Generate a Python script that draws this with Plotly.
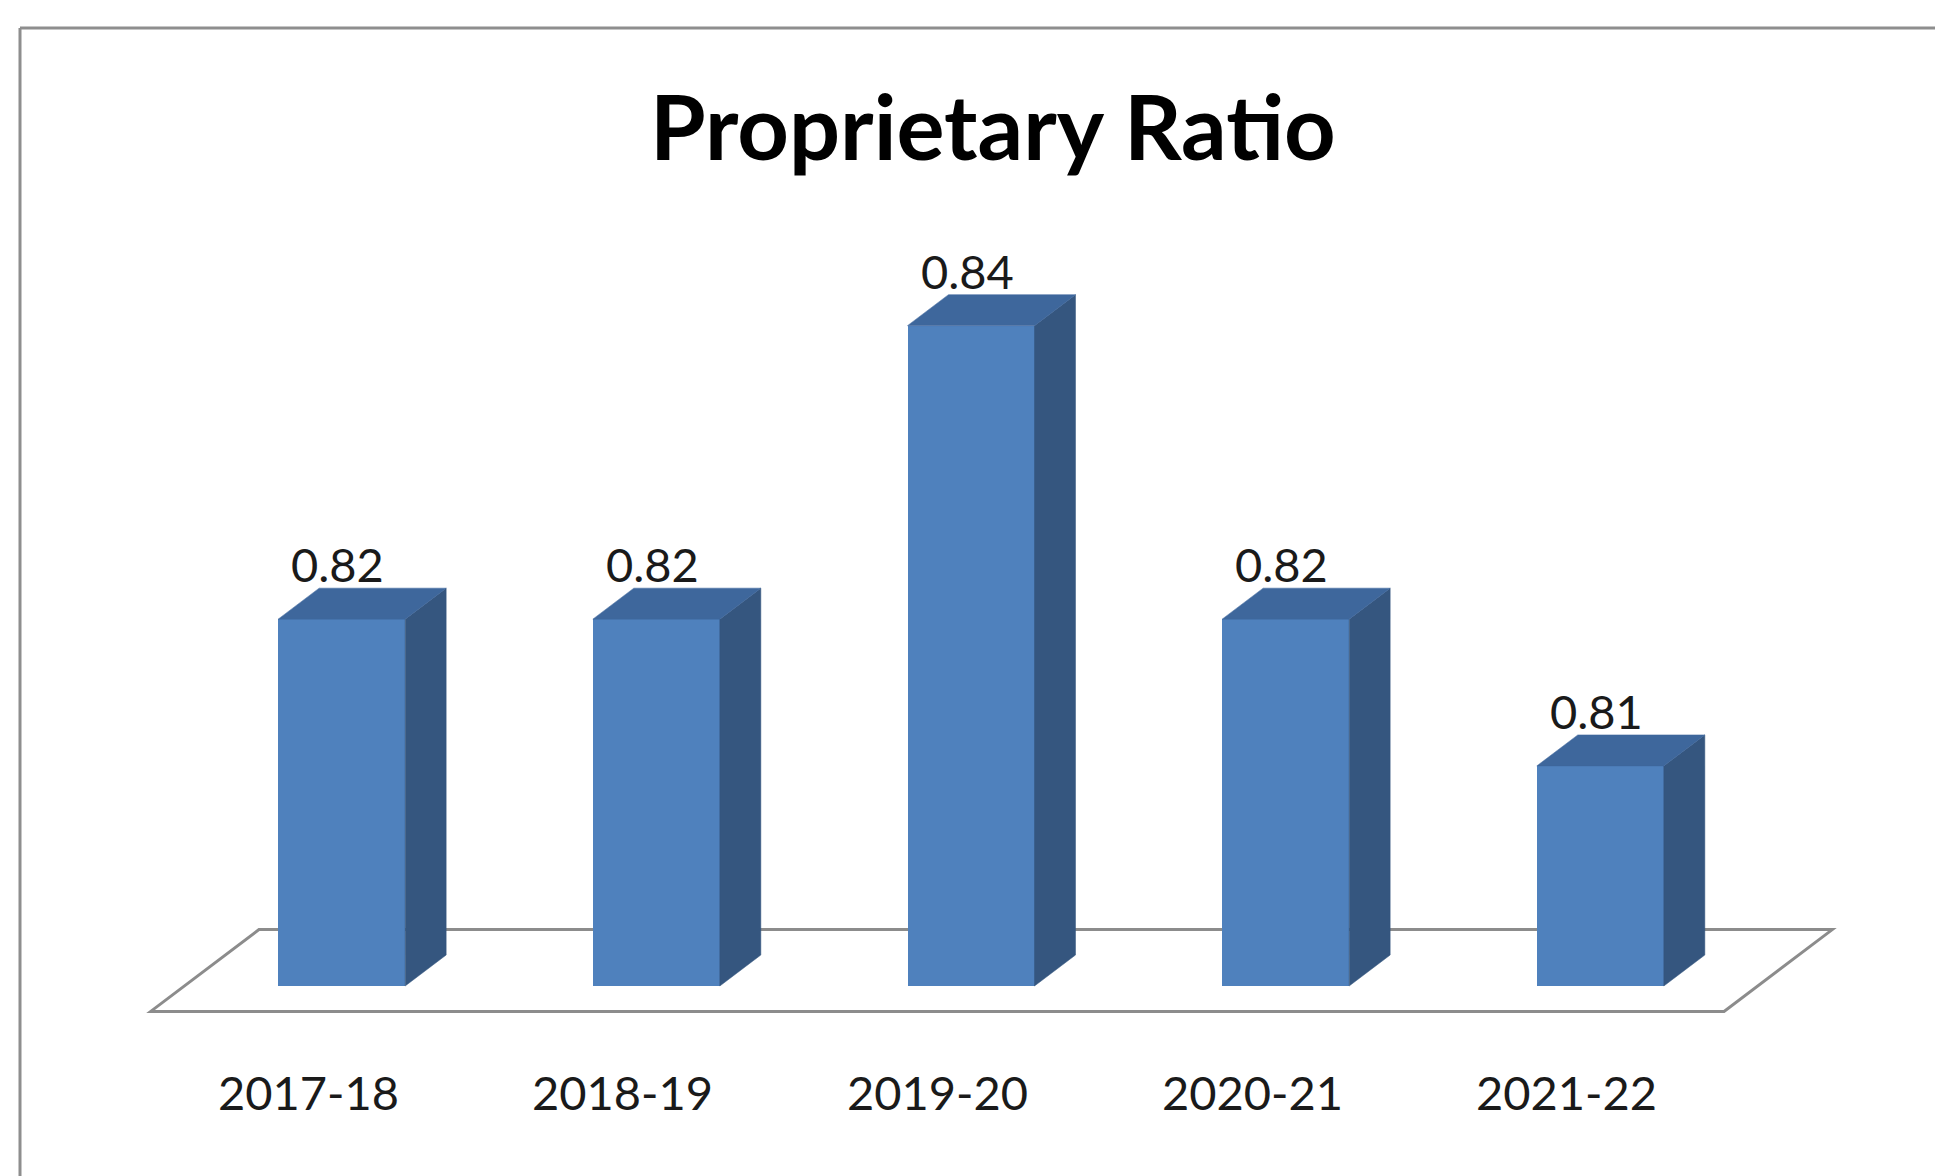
import plotly.graph_objects as go

# ---- data ----
categories = ["2017-18", "2018-19", "2019-20", "2020-21", "2021-22"]
ratios = [0.82, 0.82, 0.84, 0.82, 0.81]
value_labels = ["0.82", "0.82", "0.84", "0.82", "0.81"]
chart_title = "Proprietary Ratio"

# ---- geometry / style ----
FIG_W, FIG_H = 1935, 1176
M_L, M_R, M_T, M_B = 27, 20, 170, 46
PLOT_W = FIG_W - M_L - M_R
PLOT_H = FIG_H - M_T - M_B

FLOOR = 0.795                 # value at which the bars stand on the floor
X_RANGE = [-1.0, 5.0]
PX_PER_X = PLOT_W / (X_RANGE[1] - X_RANGE[0])
PX_PER_Y = 14675.0            # pixels per unit of ratio
FLOOR_PX = 986                # page row of the floor's front plane
Y_RANGE = [FLOOR - (FIG_H - M_B - FLOOR_PX) / PX_PER_Y,
           FLOOR + (FLOOR_PX - M_T) / PX_PER_Y]

BAR_W = 127 / PX_PER_X        # front face width in category units
DEPTH_DX = 41 / PX_PER_X      # oblique depth offset (x)
DEPTH_DY = 31 / PX_PER_Y      # oblique depth offset (y)
FLOOR_FRONT = 0.82            # floor extends this many bar depths in front
FLOOR_BACK = 1.82             # ...and this many behind the bar front plane

FRONT = "#4F81BD"
TOP = "#3E679C"
SIDE = "#35567F"
GRID_GREY = "#8C8C8C"
FONT = "Lato"


def px_to_paper_x(px):
    return (px - M_L) / PLOT_W


def px_to_paper_y(py):
    return 1 - (py - M_T) / PLOT_H


fig = go.Figure()
n = len(categories)

# front faces of the bars
fig.add_trace(go.Bar(
    x=list(range(n)), y=[v - FLOOR for v in ratios], base=FLOOR,
    width=BAR_W, marker=dict(color=FRONT, line=dict(width=0)),
    hovertext=categories, showlegend=False))

# side and top faces
for i, v in enumerate(ratios):
    xl, xr = i - BAR_W / 2, i + BAR_W / 2
    fig.add_trace(go.Scatter(
        x=[xr, xr + DEPTH_DX, xr + DEPTH_DX, xr, xr],
        y=[FLOOR, FLOOR + DEPTH_DY, v + DEPTH_DY, v, FLOOR],
        mode="lines", fill="toself", fillcolor=SIDE,
        line=dict(color=SIDE, width=0.5), hoverinfo="skip", showlegend=False))
    fig.add_trace(go.Scatter(
        x=[xl, xr, xr + DEPTH_DX, xl + DEPTH_DX, xl],
        y=[v, v, v + DEPTH_DY, v + DEPTH_DY, v],
        mode="lines", fill="toself", fillcolor=TOP,
        line=dict(color=TOP, width=0.5), hoverinfo="skip", showlegend=False))

# floor parallelogram, drawn underneath the bars
fx0, fx1 = -0.5, n - 0.5
floor_pts = [
    (fx0 - FLOOR_FRONT * DEPTH_DX, FLOOR - FLOOR_FRONT * DEPTH_DY),
    (fx1 - FLOOR_FRONT * DEPTH_DX, FLOOR - FLOOR_FRONT * DEPTH_DY),
    (fx1 + FLOOR_BACK * DEPTH_DX, FLOOR + FLOOR_BACK * DEPTH_DY),
    (fx0 + FLOOR_BACK * DEPTH_DX, FLOOR + FLOOR_BACK * DEPTH_DY),
]
floor_path = "M " + " L ".join(f"{x},{y}" for x, y in floor_pts) + " Z"

shapes = [
    dict(type="path", xref="x", yref="y", path=floor_path, layer="below",
         fillcolor="white", line=dict(color=GRID_GREY, width=3)),
    # chart area frame (top and left edges)
    dict(type="line", xref="paper", yref="paper",
         x0=px_to_paper_x(20), x1=px_to_paper_x(FIG_W + 5),
         y0=px_to_paper_y(28), y1=px_to_paper_y(28),
         line=dict(color="#8E8E8E", width=3)),
    dict(type="line", xref="paper", yref="paper",
         x0=px_to_paper_x(20), x1=px_to_paper_x(20),
         y0=px_to_paper_y(28), y1=px_to_paper_y(FIG_H + 5),
         line=dict(color="#8E8E8E", width=3)),
]

annotations = []
# value labels above each bar
for i, (v, lab) in enumerate(zip(ratios, value_labels)):
    annotations.append(dict(
        x=i - 4 / PX_PER_X, y=v, xref="x", yref="y", text=lab,
        showarrow=False, xanchor="center", yanchor="bottom", yshift=25,
        font=dict(family=FONT, size=47, color="#1A1A1A")))

# category labels under the floor's front edge
for i, cat in enumerate(categories):
    annotations.append(dict(
        x=i - FLOOR_FRONT * DEPTH_DX, y=FLOOR, xref="x", yref="y", text=cat,
        showarrow=False, xanchor="center", yanchor="middle", yshift=-106,
        font=dict(family=FONT, size=47, color="#1A1A1A")))

# chart title
annotations.append(dict(
    x=px_to_paper_x(993), y=px_to_paper_y(125), xref="paper", yref="paper",
    text="<b>" + chart_title + "</b>", showarrow=False,
    xanchor="center", yanchor="middle",
    font=dict(family=FONT, size=90, color="#000000")))

fig.update_layout(
    width=FIG_W, height=FIG_H,
    margin=dict(l=M_L, r=M_R, t=M_T, b=M_B),
    paper_bgcolor="white", plot_bgcolor="rgba(0,0,0,0)",
    xaxis=dict(range=X_RANGE, visible=False, fixedrange=True),
    yaxis=dict(range=Y_RANGE, visible=False, fixedrange=True),
    annotations=annotations, shapes=shapes,
    bargap=0, showlegend=False,
)

fig.write_html("out.html")
